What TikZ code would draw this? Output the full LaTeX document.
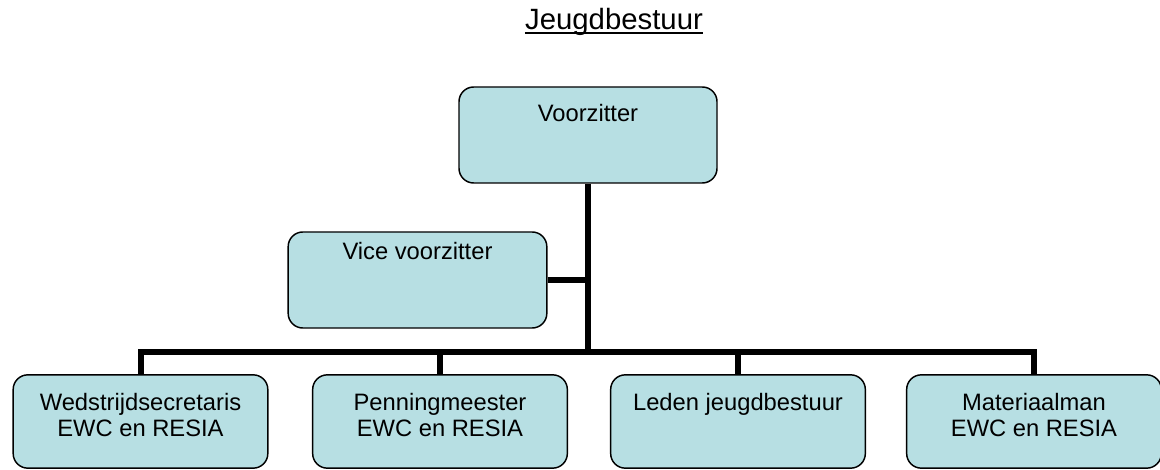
\documentclass[tikz,border=0pt]{standalone}
\usepackage{fontspec}
\setmainfont{Liberation Sans}
\usepackage{xcolor}
\definecolor{boxblue}{RGB}{183,223,227}

\begin{document}
\begin{tikzpicture}[x=0.75pt,y=-0.75pt,
  post/.style={draw=black,line width=1.1pt,fill=boxblue,rounded corners=11pt,
    minimum width=191pt,minimum height=70pt,inner sep=0pt},
  posttext/.style={anchor=north,inner sep=0pt,align=center,
    font=\fontsize{17.8pt}{19.5pt}\selectfont},
  link/.style={line width=4.5pt}]
\useasboundingbox (0,0) rectangle (1160,470);

\node[anchor=base,inner sep=0pt,font=\fontsize{22pt}{26pt}\selectfont] (title) at (614,30) {Jeugdbestuur};
\draw[line width=1.5pt] ([yshift=-2.5pt]title.base west) -- ([yshift=-2.5pt]title.base east);

\node[post,minimum width=193.5pt,minimum height=72pt] (voorz) at (588,135) {};
\node[post,minimum width=194pt,minimum height=72pt] (vice) at (417.5,280) {};
\node[post] (wed) at (140.5,421.5) {};
\node[post] (pen) at (440,421.5) {};
\node[post] (led) at (738,421.5) {};
\node[post] (mat) at (1034,421.5) {};

\coordinate (bus) at (588,352);
\draw[link] (voorz.south) -- (bus);
\draw[link] (vice.east) -- (vice.east -| voorz.south);
\draw[link] (bus) -| (wed.north);
\draw[link] (bus) -| (pen.north);
\draw[link] (bus) -| (led.north);
\draw[link] (bus) -| (mat.north);

\node[posttext] (voorzt) at ([yshift=-13.5pt]voorz.north) {Voorzitter};
\node[posttext] (vicet) at ([yshift=-8.25pt]vice.north) {Vice voorzitter};
\node[posttext] (wedt) at ([yshift=-14.25pt]wed.north) {Wedstrijdsecretaris\\EWC en RESIA};
\node[posttext] (pent) at ([yshift=-14.25pt]pen.north) {Penningmeester\\EWC en RESIA};
\node[posttext] (ledt) at ([yshift=-14.25pt]led.north) {Leden jeugdbestuur};
\node[posttext] (matt) at ([yshift=-14.25pt]mat.north) {Materiaalman\\EWC en RESIA};
\end{tikzpicture}
\end{document}
